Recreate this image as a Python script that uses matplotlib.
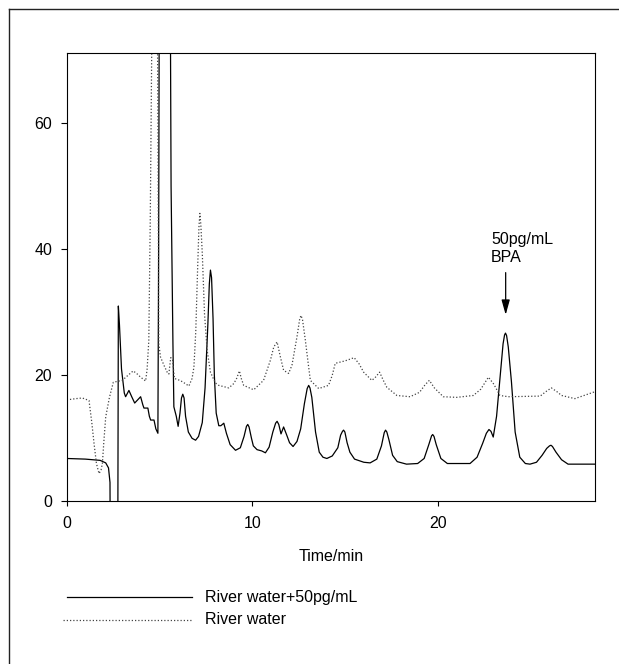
# =====================================================
# Chromatogram: river water vs river water + 50pg/mL BPA
# =====================================================

import matplotlib
matplotlib.use("Agg")
import matplotlib.pyplot as plt
from matplotlib.lines import Line2D

plt.rcParams["font.family"] = ["Liberation Sans", "DejaVu Sans"]

# -----------------------------------------------------
# Data (time in min, response)
# -----------------------------------------------------
spiked_time = [
    0.0, 1.0, 1.8, 2.1, 2.25, 2.33, 2.36, 2.74, 2.78, 2.84, 2.95, 3.1,
    3.17, 3.35, 3.5, 3.66, 3.85, 3.98, 4.1, 4.16, 4.37, 4.45, 4.52, 4.7,
    4.8, 4.91, 4.95, 5.0, 5.55, 5.62, 5.72, 5.77, 5.9, 6.0, 6.1, 6.18,
    6.25, 6.32, 6.4, 6.55, 6.75, 6.94, 7.1, 7.3, 7.45, 7.6, 7.68, 7.74,
    7.8, 7.88, 7.95, 8.05, 8.19, 8.3, 8.46, 8.6, 8.8, 9.09, 9.35, 9.55,
    9.68, 9.75, 9.82, 9.95, 10.05, 10.25, 10.5, 10.7, 10.9, 11.1, 11.25,
    11.33, 11.42, 11.54, 11.68, 11.85, 12.0, 12.19, 12.4, 12.6, 12.8,
    12.95, 13.03, 13.1, 13.2, 13.4, 13.6, 13.8, 14.01, 14.3, 14.6, 14.75,
    14.85, 14.91, 14.98, 15.1, 15.25, 15.5, 16.0, 16.34, 16.7, 16.95,
    17.1, 17.17, 17.24, 17.35, 17.55, 17.8, 18.3, 18.9, 19.25, 19.5, 19.65,
    19.71, 19.78, 19.9, 20.15, 20.5, 21.0, 21.72, 22.1, 22.4, 22.6, 22.74,
    22.85, 22.97, 23.15, 23.35, 23.5, 23.58, 23.63, 23.69, 23.78, 23.95,
    24.15, 24.4, 24.7, 24.95, 25.3, 25.6, 25.85, 26.0, 26.08, 26.16,
    26.35, 26.65, 27.0, 28.45,
]
spiked_value = [
    6.8, 6.7, 6.5, 6.1, 5.3, 3.0, -20, -20, 31.0, 28.0, 21.0, 17.2,
    16.6, 17.6, 16.6, 15.6, 16.2, 16.6, 15.3, 14.8, 14.8, 13.5, 12.9, 12.9,
    11.5, 10.8, 40, 100, 100, 50, 25, 15.0, 13.5, 11.9, 14.0, 16.4,
    17.0, 16.4, 13.5, 11.0, 10.0, 9.7, 10.3, 12.5, 18, 28, 34.5, 36.7,
    35.5, 29.0, 20, 14, 12.0, 12.0, 12.4, 10.8, 9.0, 8.1, 8.5, 10.3,
    11.9, 12.2, 11.8, 10.0, 8.8, 8.2, 8.0, 7.7, 8.6, 11.0, 12.4,
    12.7, 12.2, 10.7, 11.8, 10.5, 9.3, 8.7, 9.5, 11.5, 15.5,
    17.9, 18.4, 18.0, 16.5, 11.0, 7.8, 7.0, 6.8, 7.2, 8.5, 10.5,
    11.1, 11.3, 11.0, 9.3, 7.8, 6.7, 6.2, 6.1, 6.7, 8.8,
    10.9, 11.3, 11.0, 9.8, 7.3, 6.3, 5.9, 6.0, 6.8, 9.0, 10.4,
    10.6, 10.3, 9.0, 6.8, 6.0, 6.0, 6.0, 7.0, 9.2, 10.8, 11.4,
    11.1, 10.2, 13.5, 20, 25.0, 26.4, 26.7, 26.3, 24.5, 19,
    11, 7.0, 6.0, 5.9, 6.2, 7.3, 8.4, 8.8, 8.9, 8.7,
    7.8, 6.6, 5.9, 5.9,
]

river_time = [
    0.0, 0.5, 0.84, 1.2, 1.35, 1.47, 1.6, 1.74, 1.85, 1.92, 2.0, 2.1,
    2.3, 2.51, 2.99, 3.3, 3.58, 3.8, 3.98, 4.25, 4.33, 4.42, 4.5, 4.66,
    4.85, 4.91, 4.96, 5.05, 5.25, 5.41, 5.5, 5.6, 5.7, 5.8, 6.0, 6.22,
    6.58, 6.75, 6.85, 6.95, 7.05, 7.12, 7.17, 7.22, 7.3, 7.42, 7.56, 7.74,
    8.0, 8.19, 8.73, 9.0, 9.15, 9.3, 9.4, 9.53, 10.07, 10.6, 10.97, 11.15,
    11.33, 11.5, 11.68, 11.95, 12.13, 12.4, 12.55, 12.62, 12.7, 12.85, 13.0,
    13.12, 13.57, 14.1, 14.3, 14.46, 15.0, 15.48, 15.75, 15.99, 16.43,
    16.6, 16.85, 17.05, 17.24, 17.78, 18.49, 19.0, 19.3, 19.53, 19.8,
    20.28, 21.0, 21.9, 22.3, 22.71, 23.0, 23.33, 23.78, 25.5, 25.8, 26.1,
    26.4, 26.65, 27.37, 28.45,
]
river_value = [
    16.1, 16.3, 16.4, 16.0, 12.5, 9.2, 6.0, 4.4, 5.0, 6.0, 9.5, 13.4,
    16.5, 18.9, 19.2, 20.0, 20.7, 20.2, 19.7, 19.1, 21.0, 25.5, 45, 100,
    100, 60, 25, 22.9, 21.5, 20.5, 20.2, 22.8, 22.5, 19.5, 19.3, 19.0,
    18.3, 19.5, 21.3, 27, 37, 43.5, 45.7, 44.0, 39.4, 29.8, 24, 20.5,
    18.8, 18.4, 18.0, 18.7, 19.5, 20.7, 19.5, 18.4, 17.7, 19.2, 22.4, 24.5,
    25.3, 23.0, 20.8, 20.3, 21.6, 26.1, 29.0, 29.5, 28.8, 25.6, 22.0,
    19.2, 17.9, 18.4, 20.0, 21.9, 22.3, 22.8, 21.8, 20.5, 19.2,
    19.6, 20.5, 19.2, 18.1, 16.8, 16.6, 17.3, 18.5, 19.2, 18.0,
    16.6, 16.5, 16.8, 17.8, 19.7, 18.6, 16.8, 16.6, 16.7, 17.4, 18.0,
    17.4, 16.8, 16.3, 17.4,
]

x_ticks = [0, 10, 20]
y_ticks = [0, 20, 40, 60]

labels = ["River water+50pg/mL", "River water"]

# BPA peak marker
bpa_time = 23.64
bpa_text = ["50pg/mL", "BPA"]

# -----------------------------------------------------
# Figure
# -----------------------------------------------------
fs = 11.5
dotted = (0, (1, 1.6))

fig = plt.figure(figsize=(6.19, 6.64), dpi=100)
ax = fig.add_axes([0.1078, 0.245, 0.8534, 0.6756])

ax.plot(spiked_time, spiked_value, color="black", lw=0.9)
ax.plot(river_time, river_value, color="#444444", lw=0.9, linestyle=dotted)

ax.set_xlim(0, 28.45)
ax.set_ylim(0, 71.2)
ax.set_xticks(x_ticks)
ax.set_yticks(y_ticks)
ax.tick_params(axis="both", direction="out", labelsize=fs, width=0.8)
ax.tick_params(axis="y", length=4.5, pad=6)
ax.tick_params(axis="x", length=3.5, pad=7)
for s in ax.spines.values():
    s.set_linewidth(0.8)

ax.set_xlabel("Time/min", fontsize=fs, labelpad=13)

# -----------------------------------------------------
# Arrow + label for BPA peak
# -----------------------------------------------------
ax.annotate(
    "",
    xy=(bpa_time, 29.6),
    xytext=(bpa_time, 36.3),
    arrowprops=dict(
        arrowstyle="-|>,head_length=0.9,head_width=0.25",
        color="black",
        lw=0.9,
        shrinkA=0,
        shrinkB=0,
    ),
)
ax.text(22.85, 40.9, bpa_text[0], fontsize=fs, va="baseline", ha="left")
ax.text(22.85, 38.0, bpa_text[1], fontsize=fs, va="baseline", ha="left")

# -----------------------------------------------------
# Legend drawn below the axes
# -----------------------------------------------------
fig.add_artist(Line2D([0.1078, 0.3097], [0.1009, 0.1009],
                      color="black", lw=0.9))
fig.add_artist(Line2D([0.1018, 0.3118], [0.0663, 0.0663],
                      color="#444444", lw=0.9, linestyle=dotted))
fig.text(0.3312, 0.1009, labels[0], fontsize=fs, va="center", ha="left")
fig.text(0.3312, 0.0663, labels[1], fontsize=fs, va="center", ha="left")

# -----------------------------------------------------
# Outer frame (top and left edges visible)
# -----------------------------------------------------
fig.add_artist(Line2D([0.0145, 1.0], [0.9864, 0.9864], color="#222222", lw=1))
fig.add_artist(Line2D([0.0145, 0.0145], [0.0, 0.9864], color="#222222", lw=1))

fig.savefig("out.png", dpi=100)
